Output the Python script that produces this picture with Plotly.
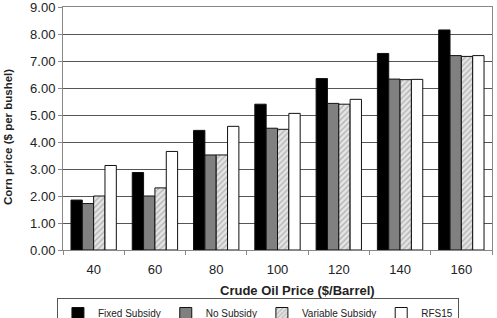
import plotly.graph_objects as go

categories = ["40", "60", "80", "100", "120", "140", "160"]
fixed_subsidy = [1.85, 2.87, 4.43, 5.40, 6.35, 7.28, 8.15]
no_subsidy = [1.72, 2.00, 3.52, 4.51, 5.43, 6.33, 7.20]
variable_subsidy = [2.00, 2.30, 3.52, 4.47, 5.40, 6.31, 7.17]
rfs15 = [3.13, 3.65, 4.58, 5.06, 5.58, 6.32, 7.20]
y_ticks = [0, 1, 2, 3, 4, 5, 6, 7, 8, 9]

fig = go.Figure()
line = dict(color="#111111", width=1)
fig.add_bar(name="Fixed Subsidy", x=categories, y=fixed_subsidy,
            marker=dict(color="#000000", line=line))
fig.add_bar(name="No Subsidy", x=categories, y=no_subsidy,
            marker=dict(color="#808080", line=line))
fig.add_bar(name="Variable Subsidy", x=categories, y=variable_subsidy,
            marker=dict(color="#d8d8d8", line=line,
                        pattern=dict(shape="/", fgcolor="#b0b0b0", bgcolor="#e4e4e4",
                                     size=4, solidity=0.3, fillmode="replace")))
fig.add_bar(name="RFS15", x=categories, y=rfs15,
            marker=dict(color="#ffffff", line=line))

font = "Liberation Sans, Arial, sans-serif"
L, R, T, B, W, H = 63, 5, 7, 68, 497, 318
pw, ph = W - L - R, H - T - B

fig.update_layout(
    width=W, height=H,
    margin=dict(l=L, r=R, t=T, b=B, autoexpand=False),
    paper_bgcolor="white", plot_bgcolor="white",
    barmode="group", bargap=0.26, bargroupgap=0.0,
    font=dict(family=font, size=13, color="#222222"),
    showlegend=True,
    legend=dict(orientation="h", xref="container", x=0.519, xanchor="center",
                yref="container", y=1 - 298 / 318, yanchor="top",
                bordercolor="#555555", borderwidth=1,
                font=dict(size=10, family=font),
                itemwidth=30, tracegroupgap=0, traceorder="normal"),
    xaxis=dict(
        automargin=False,
        showline=True, linecolor="#888888", linewidth=1,
        ticks="outside", tickson="boundaries", ticklen=4, tickcolor="#888888",
        tickfont=dict(size=13), ticklabelstandoff=7,
        mirror=True,
    ),
    yaxis=dict(
        automargin=False,
        range=[0, 9], tickvals=y_ticks, tickformat=".2f",
        ticklabeloverflow="allow",
        showgrid=True, gridcolor="#555555", gridwidth=1,
        showline=True, linecolor="#888888", linewidth=1, mirror=True,
        ticks="outside", ticklen=4, tickcolor="#888888",
        tickfont=dict(size=13),
        zeroline=False,
    ),
    annotations=[
        dict(text="<b>Crude Oil Price ($/Barrel)</b>", showarrow=False,
             xref="paper", yref="paper",
             x=(297 - L) / pw, y=(T + ph - 290) / ph,
             xanchor="center", yanchor="middle", font=dict(size=13)),
        dict(text="<b>Corn price ($ per bushel)</b>", showarrow=False, textangle=-90,
             xref="paper", yref="paper",
             x=(8 - L) / pw, y=(T + ph - 137) / ph,
             xanchor="center", yanchor="middle", font=dict(size=11.5)),
    ],
)

fig.write_html("out.html")
